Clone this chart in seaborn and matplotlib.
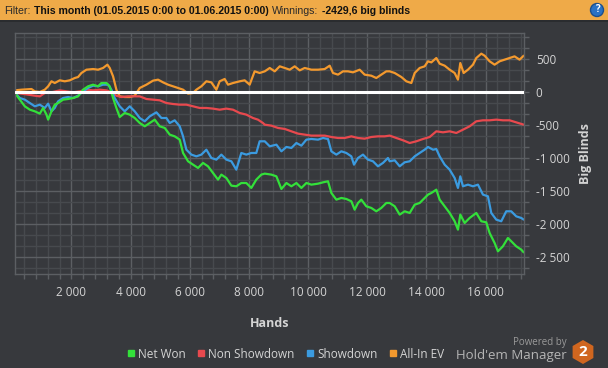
import matplotlib
matplotlib.use("Agg")
import matplotlib.pyplot as plt
import matplotlib.ticker as mticker
import numpy as np
import pandas as pd
import seaborn as sns
from matplotlib.lines import Line2D
from matplotlib.patches import Rectangle, RegularPolygon, Circle
from matplotlib.transforms import IdentityTransform

# ---- data (hands, big blinds) ----
allin_hands = [84, 309, 647, 760, 929, 1097, 1210, 1323, 1435, 1604, 1773, 1942, 2111, 2223, 2336, 2505,
               2730, 2899, 3068, 3214, 3293, 3406, 3518, 3631, 3800, 3969, 4138,
               4308, 4533, 4758, 4927, 5096, 5265, 5434, 5603, 5772, 5941, 6110, 6222, 6391, 6560, 6729,
               6898, 7010, 7179, 7292, 7461, 7686, 7855, 8024, 8193, 8362,
               8534, 8703, 8872, 9041, 9210, 9379, 9547, 9716, 9885, 10110, 10336, 10561, 10730, 10842,
               11011, 11180, 11349, 11518, 11743, 11912, 12137, 12306, 12475, 12644,
               12759, 12928, 13153, 13322, 13491, 13604, 13772, 13941, 14054, 14167, 14335, 14448, 14617,
               14786, 14955, 15067, 15146, 15259, 15405, 15574, 15687, 15856, 15968, 16137, 16306, 16475,
               16644, 16813, 16981, 17150, 17290]
allin_bb = [25, 35, 45, 10, 0, 35, 86, 162, 136, 177, 162, 177, 212, 227, 288, 338, 348, 338, 364, 414,
            364, 237, 35, -66, -76, -76, -56,
            61, 111, 172, 187, 146, 111, 86, 61, 35, -25, -15, 35, 86, 162, 146, 35, 162, 197, 111, 136,
            162, 177, 111, 313, 288,
            313, 364, 313, 389, 364, 338, 389, 328, 364, 338, 338, 348, 399, 288, 263, 313, 313, 298,
            338, 263, 247, 212, 263, 313,
            313, 288, 227, 162, 136, 288, 364, 389, 465, 449, 515, 429, 399, 338, 288, 187, 439, 288,
            338, 414, 515, 581, 550, 465, 414, 465, 490, 515, 540, 490, 550]

nonsd_hands = [84, 309, 534, 760, 929, 1097, 1323, 1604, 1829, 2055, 2280, 2505, 2730, 2955, 3181, 3349,
               3518, 3687, 3912, 4138,
               4308, 4533, 4758, 4984, 5209, 5434, 5659, 5884, 6110, 6335, 6560, 6785, 7010, 7236, 7461,
               7686, 7911, 8136, 8305, 8474,
               8534, 8759, 8984, 9210, 9435, 9660, 9885, 10110, 10336, 10561, 10786, 11011, 11236, 11462,
               11687, 11912, 12137, 12362, 12588,
               12759, 12984, 13209, 13435, 13660, 13885, 14110, 14335, 14561, 14786, 15011, 15236, 15461,
               15687, 15912, 16137, 16362, 16587, 16813, 17037, 17290]
nonsd_bb = [-15, -25, -40, -56, -66, -15, -5, 25, 10, -5, 10, 35, 25, 35, 25, -5, -56, -76, -66, -66,
            -66, -106, -116, -126, -167, -182, -192, -192, -217, -242, -242, -252, -268, -252, -268,
            -318, -343, -394, -419, -470,
            -495, -510, -545, -560, -596, -631, -646, -661, -661, -661, -682, -697, -697, -672, -697,
            -707, -682, -672, -672,
            -661, -697, -732, -773, -747, -712, -682, -596, -611, -596, -621, -571, -520, -444, -429,
            -429, -419, -429, -429, -460, -495]

sd_hands = [84, 253, 422, 591, 760, 929, 1097, 1210, 1323, 1435, 1548, 1717, 1886, 2055, 2223, 2392,
            2561, 2730, 2899, 3068, 3237, 3349, 3462, 3631, 3800, 3969, 4138,
            4308, 4477, 4646, 4871, 5040, 5209, 5321, 5490, 5659, 5772, 5884, 6053, 6222, 6391, 6560,
            6729, 6898, 7067, 7236, 7405, 7573, 7742, 7911, 8080, 8249, 8362,
            8534, 8703, 8928, 9097, 9266, 9435, 9604, 9773, 9942, 10110, 10336, 10505, 10673, 10786,
            10955, 11124, 11293, 11462, 11552, 11687, 11856, 12025, 12194, 12362, 12531, 12700,
            12759, 12928, 13097, 13266, 13435, 13604, 13772, 13941, 14054, 14223, 14335, 14448, 14617,
            14786, 14955, 15067, 15146, 15236, 15405, 15574, 15743, 15912, 16081, 16193, 16362, 16531,
            16700, 16869, 17037, 17207, 17290]
sd_bb = [-15, -91, -116, -167, -217, -192, -242, -177, -293, -242, -141, -91, -76, -91, -56, 10, 61, 96,
         86, 111, 111, 35, -91, -217, -293, -217, -293,
         -394, -444, -369, -308, -394, -394, -470, -429, -520, -672, -874, -949, -975, -949, -874, -1000,
         -1025, -949, -1025, -1050, -1177, -924, -949, -924, -924, -747,
         -747, -823, -798, -899, -833, -848, -773, -813, -722, -712, -722, -697, -712, -899, -949, -899,
         -924, -975, -1101, -1000, -949, -1025, -1050, -1126, -1075, -1000,
         -1050, -1035, -1126, -1065, -1050, -975, -924, -874, -833, -874, -864, -975, -1101, -1177,
         -1303, -1454, -1278, -1429, -1404, -1429, -1404, -1555, -1581, -1833, -1934, -1959, -1808,
         -1808, -1884, -1909, -1934]

net_hands = [84, 253, 422, 591, 760, 929, 1041, 1154, 1210, 1323, 1435, 1548, 1717, 1886, 2055, 2223,
             2392, 2561, 2730, 2899, 3012, 3181, 3293, 3406, 3518, 3631, 3800, 3969, 4138,
             4308, 4477, 4646, 4815, 4984, 5153, 5321, 5490, 5659, 5772, 5941, 6110, 6279, 6447, 6616,
             6785, 6954, 7067, 7236, 7405, 7573, 7742, 7911, 8080, 8249, 8418,
             8534, 8759, 8928, 9097, 9266, 9435, 9604, 9773, 9942, 10110, 10336, 10505, 10673, 10786,
             10955, 11124, 11293, 11462, 11574, 11687, 11799, 11968, 12137, 12306, 12475, 12644,
             12759, 12928, 13097, 13266, 13435, 13604, 13772, 13941, 14054, 14167, 14335, 14448, 14617,
             14786, 14955, 15067, 15146, 15293, 15461, 15687, 15856, 16024, 16137, 16306, 16419, 16587,
             16756, 16869, 17037, 17207, 17290]
net_bb = [-15, -116, -217, -268, -293, -328, -242, -343, -419, -293, -192, -167, -116, -106, -91, -66,
          35, 86, 111, 86, 136, 136, 86, -91, -242, -379, -318, -343, -394,
          -470, -520, -470, -419, -520, -545, -646, -672, -722, -924, -1050, -1101, -1151, -1075, -1126,
          -1227, -1328, -1252, -1303, -1419, -1429, -1379, -1379, -1454, -1328, -1252,
          -1237, -1252, -1278, -1470, -1379, -1429, -1379, -1454, -1379, -1404, -1389, -1369, -1353,
          -1530, -1631, -1606, -1621, -1656, -1783, -1682, -1631, -1732, -1757, -1808, -1757, -1682,
          -1682, -1732, -1858, -1808, -1833, -1707, -1682, -1606, -1555, -1530, -1480, -1631, -1732,
          -1833, -1959, -2086, -1858, -1985, -1909, -1833, -1959, -1975, -2136, -2288, -2414, -2338,
          -2212, -2262, -2338, -2389, -2430]

series_names = ["Net Won", "Non Showdown", "Showdown", "All-In EV"]
series_colors = ["#33e03a", "#e8494e", "#3b9be0", "#f3992e"]

BG = "#37393d"
GRID_MINOR = "#474a4e"
GRID_MAJOR = "#5c5f63"
TEXT = "#d4d4d4"

sns.set_theme(style="dark")
plt.rcParams["font.family"] = ["Open Sans", "DejaVu Sans"]

frames = []
for name, h, v in [("All-In EV", allin_hands, allin_bb), ("Non Showdown", nonsd_hands, nonsd_bb),
                   ("Showdown", sd_hands, sd_bb), ("Net Won", net_hands, net_bb)]:
    frames.append(pd.DataFrame({"hands": h, "bb": v, "series": name}))
df = pd.concat(frames, ignore_index=True)

W, H = 608, 368
fig = plt.figure(figsize=(W / 100, H / 100), dpi=100, facecolor=BG)
ax = fig.add_axes([15 / W, 1 - 274 / H, 509 / W, 241 / H], facecolor=BG)

palette = dict(zip(series_names, series_colors))
sns.lineplot(data=df, x="hands", y="bb", hue="series", palette=palette, estimator=None, sort=False,
             hue_order=["All-In EV", "Non Showdown", "Showdown", "Net Won"],
             linewidth=1.6, legend=False, ax=ax)
ax.axhline(0, color="white", linewidth=2.2, zorder=5)

ax.set_xlim(90, 17300)
ax.set_ylim(-2758, 894)

fmt = mticker.FuncFormatter(lambda v, p: f"{v:,.0f}".replace(",", " "))
ax.xaxis.set_major_locator(mticker.MultipleLocator(2000))
ax.xaxis.set_minor_locator(mticker.MultipleLocator(400))
ax.yaxis.set_major_locator(mticker.MultipleLocator(500))
ax.yaxis.set_minor_locator(mticker.MultipleLocator(500 / 3))
ax.xaxis.set_major_formatter(fmt)
ax.yaxis.set_major_formatter(fmt)
ax.yaxis.tick_right()
ax.yaxis.set_label_position("right")

ax.grid(which="major", color=GRID_MAJOR, linewidth=1.0)
ax.grid(which="minor", color=GRID_MINOR, linewidth=1.0)
ax.set_axisbelow(True)
for s in ax.spines.values():
    s.set_color(GRID_MAJOR)
    s.set_linewidth(1.0)

ax.tick_params(which="both", direction="out", color=GRID_MAJOR, length=3.5, width=1.0,
               labelcolor=TEXT, labelsize=8.5)
ax.tick_params(axis="x", which="both", bottom=True, pad=5)
ax.tick_params(axis="y", which="both", right=True, left=False, pad=5)

ax.set_xlabel("Hands", color=TEXT, fontsize=9, fontweight="bold", labelpad=13)
ax.set_ylabel("Big Blinds", color=TEXT, fontsize=9, fontweight="bold", labelpad=7)

# ---- legend ----
handles = [Line2D([], [], marker="s", linestyle="none", markersize=5, color=c) for c in series_colors]
fig.legend(handles, series_names, loc="center", bbox_to_anchor=(0.468, 1 - 354 / H), ncol=4,
           frameon=False, fontsize=8.5, labelcolor=TEXT, handletextpad=0.1, columnspacing=0.8,
           handlelength=1.0)

# ---- powered by ----
fig.text(567 / W, 1 - 343 / H, "Powered by", color="#9a9a9a", fontsize=7, ha="right", va="center")
fig.text(567 / W, 1 - 355 / H, "Hold'em Manager", color="#b5b5b5", fontsize=9.5, ha="right", va="center")
fig.add_artist(RegularPolygon((583, H - 352), numVertices=6, radius=12, orientation=0,
                              facecolor="#d0661f", edgecolor="none", transform=IdentityTransform()))
fig.text(583 / W, 1 - 352.5 / H, "2", color="white", fontsize=11, fontweight="bold", ha="center", va="center")

# ---- filter bar ----
fig.add_artist(Rectangle((0, 1 - 20 / H), 1, 20 / H, transform=fig.transFigure, facecolor="#efaa48",
                         edgecolor="none"))
fig.add_artist(Rectangle((0, 1 - 22 / H), 1, 2 / H, transform=fig.transFigure, facecolor="#2a2c2f",
                         edgecolor="none"))
fig.add_artist(Circle((597, H - 10), 6.5, facecolor="#2b72c4", edgecolor="#1d4f8c",
                      transform=IdentityTransform()))
fig.text(597 / W, 1 - 10 / H, "?", color="white", fontsize=7, fontweight="bold", ha="center", va="center")

renderer = fig.canvas.get_renderer()
parts = [("Filter:", "normal", "#2a2a2a"),
         ("This month (01.05.2015 0:00 to 01.06.2015 0:00)", "bold", "#111111"),
         ("Winnings:", "normal", "#2a2a2a"),
         ("-2429,6 big blinds", "bold", "#111111")]
x = 4
for s, w, c in parts:
    t = fig.text(x / W, 1 - 10.5 / H, s, fontsize=7.6, fontweight=w, color=c, va="center",
                 family=["Liberation Sans", "DejaVu Sans"])
    bb = t.get_window_extent(renderer)
    x = bb.x1 + 3.5

fig.savefig("out.png", dpi=100, facecolor=BG)
